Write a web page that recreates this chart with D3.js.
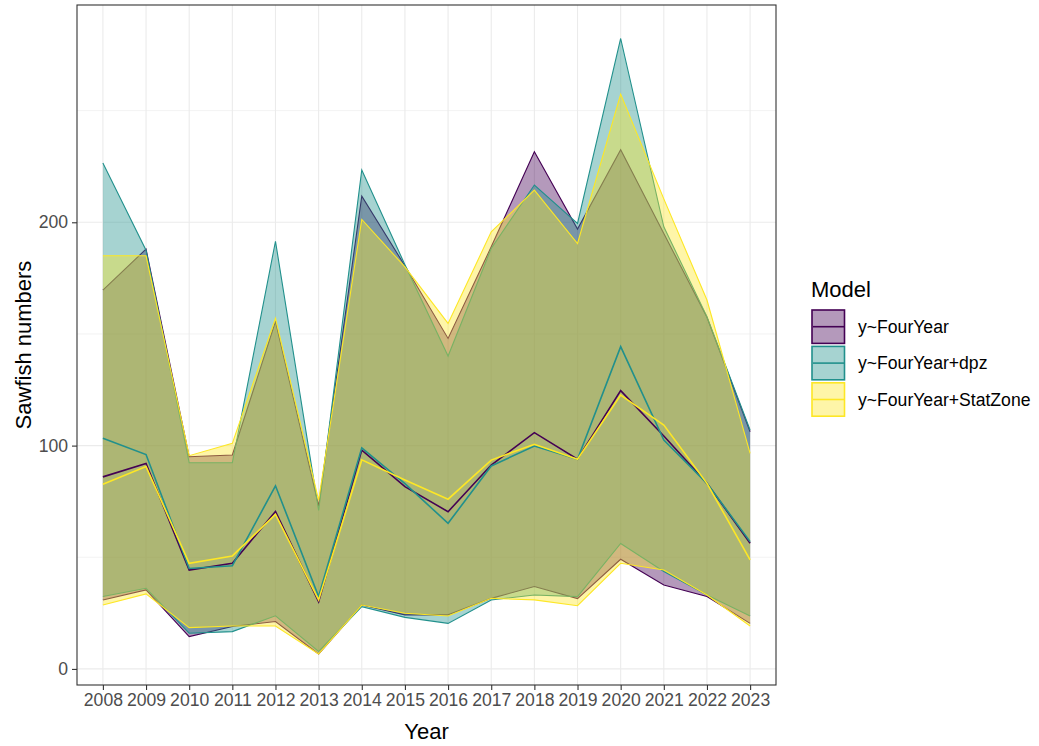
<!DOCTYPE html>
<html><head><meta charset="utf-8">
<script src="https://cdn.jsdelivr.net/npm/d3@7"></script>
<style>body{margin:0;background:#fff}svg{display:block}text{font-family:"Liberation Sans",Arial,sans-serif}</style>
</head><body><svg id="c" width="1039" height="746"></svg>
<script>
const years = [2008,2009,2010,2011,2012,2013,2014,2015,2016,2017,2018,2019,2020,2021,2022,2023];
const models = ["y~FourYear","y~FourYear+dpz","y~FourYear+StatZone"];
const colors = ["#440154","#21908C","#FDE725"];
const yTicks = [0,100,200];

const fourYearLower = [30.9,35.4,14.5,19.0,21.2,6.7,28.6,24.2,24.2,31.6,36.9,31.5,49.1,37.6,32.4,20.4];
const fourYearMean  = [86.0,92.0,44.3,47.3,70.5,30.1,98.0,81.6,70.4,91.3,105.8,93.9,124.6,104.3,83.1,56.3];
const fourYearUpper = [169.6,188.0,95.0,95.8,155.5,73.0,211.7,180.5,148.0,189.0,231.6,197.0,232.5,195.0,157.5,106.2];

const dpzLower = [32.4,36.1,16.0,16.7,23.8,7.8,27.9,23.1,20.4,30.9,33.1,32.4,56.2,43.6,33.1,23.7];
const dpzMean  = [103.3,96.0,45.0,46.2,82.0,32.4,99.0,83.0,65.2,90.9,99.8,93.9,144.3,102.5,83.1,57.0];
const dpzUpper = [226.5,187.5,92.3,92.3,191.5,71.0,223.4,181.0,140.1,188.3,216.7,199.5,282.3,198.0,157.7,107.0];

const statZoneLower = [28.6,33.6,18.5,19.2,19.2,6.7,28.6,24.9,23.7,31.6,30.9,28.3,47.3,44.3,33.1,19.2];
const statZoneMean  = [82.7,90.6,47.3,50.6,69.2,30.9,93.6,84.6,76.0,93.5,100.6,93.9,122.6,109.2,83.1,48.8];
const statZoneUpper = [185.0,185.0,95.5,101.0,157.0,75.6,201.3,180.0,154.7,195.7,214.4,190.5,257.4,210.5,165.2,96.5];

const series = [
  {lower: fourYearLower, mean: fourYearMean, upper: fourYearUpper},
  {lower: dpzLower, mean: dpzMean, upper: dpzUpper},
  {lower: statZoneLower, mean: statZoneMean, upper: statZoneUpper}
];

const svg = d3.select("#c");
const L = 77, R = 776, T = 5, B = 685;
const x = d3.scalePoint().domain(years).range([L, R]).padding(0.6);
const y = d3.scaleLinear().domain([-7.2, 297.3]).range([B, T]);

// panel
svg.append("rect").attr("x",L).attr("y",T).attr("width",R-L).attr("height",B-T).attr("fill","#fff");
const minor = [50,150,250];
svg.append("g").selectAll("line").data(minor).join("line")
  .attr("x1",L).attr("x2",R).attr("y1",d=>y(d)).attr("y2",d=>y(d))
  .attr("stroke","#EBEBEB").attr("stroke-width",0.6);
svg.append("g").selectAll("line").data(yTicks).join("line")
  .attr("x1",L).attr("x2",R).attr("y1",d=>y(d)).attr("y2",d=>y(d))
  .attr("stroke","#EBEBEB").attr("stroke-width",1.1);
svg.append("g").selectAll("line").data(years).join("line")
  .attr("x1",d=>x(d)).attr("x2",d=>x(d)).attr("y1",T).attr("y2",B)
  .attr("stroke","#EBEBEB").attr("stroke-width",1.1);

const area = d3.area().x(d=>x(d.year)).y0(d=>y(d.lo)).y1(d=>y(d.hi));
const line = d3.line().x(d=>x(d.year)).y(d=>y(d.v));

const g = svg.append("g");
series.forEach((s,i)=>{
  const rows = years.map((yr,j)=>({year:yr, lo:s.lower[j], hi:s.upper[j]}));
  g.append("path").datum(rows).attr("d",area).attr("fill",colors[i]).attr("fill-opacity",0.4);
  g.append("path").datum(years.map((yr,j)=>({year:yr,v:s.upper[j]}))).attr("d",line)
    .attr("fill","none").attr("stroke",colors[i]).attr("stroke-width",1.1);
  g.append("path").datum(years.map((yr,j)=>({year:yr,v:s.lower[j]}))).attr("d",line)
    .attr("fill","none").attr("stroke",colors[i]).attr("stroke-width",1.1);
});
series.forEach((s,i)=>{
  g.append("path").datum(years.map((yr,j)=>({year:yr,v:s.mean[j]}))).attr("d",line)
    .attr("fill","none").attr("stroke",colors[i]).attr("stroke-width",1.6);
});

svg.append("rect").attr("x",L).attr("y",T).attr("width",R-L).attr("height",B-T)
  .attr("fill","none").attr("stroke","#333333").attr("stroke-width",1.1);

// axes
const xa = svg.append("g").attr("transform",`translate(0,${B})`)
  .call(d3.axisBottom(x).tickSize(5).tickPadding(4));
const ya = svg.append("g").attr("transform",`translate(${L},0)`)
  .call(d3.axisLeft(y).tickValues(yTicks).tickSize(5).tickPadding(4));
[xa,ya].forEach(a=>{
  a.select(".domain").remove();
  a.selectAll(".tick line").attr("stroke","#333333").attr("stroke-width",1.1);
  a.selectAll(".tick text").attr("fill","#4D4D4D").style("font-size","17.6px").style("font-family","'Liberation Sans',Arial,sans-serif");
});

svg.append("text").attr("x",(L+R)/2).attr("y",739).attr("text-anchor","middle")
  .style("font-size","22px").attr("fill","#000").text("Year");
svg.append("text").attr("transform",`translate(31,${(T+B)/2}) rotate(-90)`).attr("text-anchor","middle")
  .style("font-size","22px").attr("fill","#000").text("Sawfish numbers");

// legend
const lg = svg.append("g");
lg.append("text").attr("x",811).attr("y",297).style("font-size","22px").attr("fill","#000").text("Model");
const keyH = 36.4, key0 = 308.5, kx = 811, kw = 34.5;
models.forEach((m,i)=>{
  const ky = key0 + i*keyH;
  lg.append("rect").attr("x",kx+1).attr("y",ky+1.5).attr("width",kw-2).attr("height",keyH-3)
    .attr("fill",colors[i]).attr("fill-opacity",0.4).attr("stroke",colors[i]).attr("stroke-width",1.6);
  lg.append("line").attr("x1",kx+2).attr("x2",kx+kw-1).attr("y1",ky+keyH/2).attr("y2",ky+keyH/2)
    .attr("stroke",colors[i]).attr("stroke-width",1.6);
  lg.append("text").attr("x",858).attr("y",ky+keyH/2).attr("dy","0.35em")
    .style("font-size","17.6px").attr("fill","#000").text(m);
});
</script></body></html>
